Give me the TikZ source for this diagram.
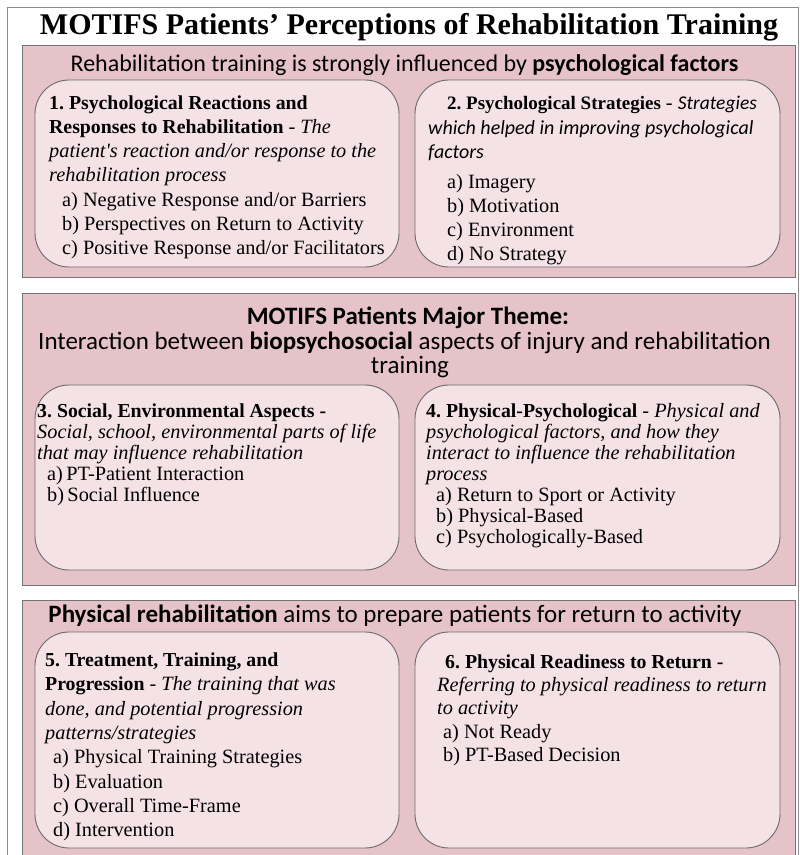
\documentclass[tikz,border=0pt]{standalone}
\usepackage{fontspec}
\setmainfont{Liberation Serif}
\newfontfamily\calfont{Carlito}
\definecolor{panelfill}{HTML}{E6C3C8}
\definecolor{boxfill}{HTML}{F4E2E6}
\definecolor{framegray}{HTML}{8A8A8A}
\newcommand\bldtxt[1]{{\fontsize{19.8}{24}\selectfont\bfseries #1}}
\newcommand\bldsmall[1]{{\fontsize{19}{24}\selectfont\bfseries #1}}
\newcommand\calit[1]{{\calfont\itshape\fontsize{19.5}{24}\selectfont #1}}
\begin{document}
\begin{tikzpicture}[x=1pt,y=-1pt,
  panel/.style={draw=black!55, fill=panelfill, line width=0.8pt},
  ibox/.style={draw=black!58, fill=boxfill, line width=0.9pt, rounded corners=34pt},
  ttl/.style={font=\fontsize{30}{34}\selectfont\bfseries, inner sep=0pt, anchor=base},
  head/.style={font=\calfont\fontsize{24}{28}\selectfont, inner sep=0pt, anchor=base},
  headl/.style={font=\calfont\fontsize{25}{28}\selectfont, inner sep=0pt, anchor=base},
  ln/.style={font=\frenchspacing\fontsize{20.3}{24}\selectfont, inner sep=0pt, anchor=base west},
  lnc/.style={font=\calfont\itshape\fontsize{20}{24}\selectfont, inner sep=0pt, anchor=base west}]
\useasboundingbox (0,0) rectangle (800,855);
\clip (0,0) rectangle (800,855);
\fill[white] (0,0) rectangle (800,855);
% outer frame
\draw[framegray, line width=1pt] (7,870) -- (7,7) -- (798,7) -- (798,870);
% title
\node[ttl] (title) at (409,34) {MOTIFS Patients’ Perceptions of Rehabilitation Training};

% ---------- panel 1
\path[panel] (22,45) rectangle (795,277);
\node[head] (h1) at (404.5,71) {Rehabilitation training is strongly influenced by \textbf{psychological factors}};
\path[ibox] (35,80) rectangle (399,267);
\path[ibox] (415,80) rectangle (780,267);
\node[ln] (b1a) at (49,109) {\bldtxt{1. Psychological Reactions and}};
\node[ln] (b1b) at (49,133) {\bldtxt{Responses to Rehabilitation} - \textit{The}};
\node[ln] (b1c) at (49,157) {\textit{patient\textquotesingle s reaction and/or response to the}};
\node[ln] (b1d) at (49,181) {\textit{rehabilitation process}};
\node[ln] (b1e) at (62,206) {a) Negative Response and/or Barriers};
\node[ln] (b1f) at (62,230) {b) Perspectives on Return to Activity};
\node[ln] (b1g) at (62,254) {c) Positive Response and/or Facilitators};

\node[ln] (b2a) at (447,109) {\bldsmall{2. Psychological Strategies} - \calit{Strategies}};
\node[lnc] (b2b) at (428,134) {which helped in improving psychological};
\node[lnc] (b2c) at (428,158) {factors};
\node[ln] (b2d) at (447,188) {a) Imagery};
\node[ln] (b2e) at (447,212) {b) Motivation};
\node[ln] (b2f) at (447,236) {c) Environment};
\node[ln] (b2g) at (447,260) {d) No Strategy};

% ---------- panel 2
\path[panel] (22,293) rectangle (795,585);
\node[headl] (h2a) at (408,324) {\textbf{MOTIFS Patients Major Theme:}};
\node[headl] (h2b) at (404.5,349) {Interaction between \textbf{biopsychosocial} aspects of injury and rehabilitation};
\node[headl] (h2c) at (410,373) {training};
\path[ibox] (35,385) rectangle (399,570);
\path[ibox] (415,385) rectangle (780,570);
\node[ln] (b3a) at (37,417) {\bldtxt{3. Social, Environmental Aspects -}};
\node[ln] (b3b) at (37,438) {\textit{Social, school, environmental parts of life}};
\node[ln] (b3c) at (37,459) {\textit{that may influence rehabilitation}};
\node[ln] (b3d) at (47,480) {a)\,PT-Patient Interaction};
\node[ln] (b3e) at (47,501) {b)\,Social Influence};

\node[ln] (b4a) at (426,417) {\bldtxt{4. Physical-Psychological} - \textit{Physical and}};
\node[ln] (b4b) at (426,438) {\textit{psychological factors, and how they}};
\node[ln] (b4c) at (426,459) {\textit{interact to influence the rehabilitation}};
\node[ln] (b4d) at (426,480) {\textit{process}};
\node[ln] (b4e) at (436,501) {a) Return to Sport or Activity};
\node[ln] (b4f) at (436,522) {b) Physical-Based};
\node[ln] (b4g) at (436,543) {c) Psychologically-Based};

% ---------- panel 3
\path[panel] (22,600) rectangle (795,870);
\node[headl] (h3) at (395,622) {\textbf{Physical rehabilitation} aims to prepare patients for return to activity};
\path[ibox] (35,632) rectangle (399,848);
\path[ibox] (415,632) rectangle (780,848);
\node[ln] (b5a) at (45,666) {\bldtxt{5. Treatment, Training, and}};
\node[ln] (b5b) at (45,690) {\bldtxt{Progression} - \textit{The training that was}};
\node[ln] (b5c) at (45,715) {\textit{done, and potential progression}};
\node[ln] (b5d) at (45,739) {\textit{patterns/strategies}};
\node[ln] (b5e) at (53,763) {a) Physical Training Strategies};
\node[ln] (b5f) at (53,788) {b) Evaluation};
\node[ln] (b5g) at (53,812) {c) Overall Time-Frame};
\node[ln] (b5h) at (53,836) {d) Intervention};

\node[ln] (b6a) at (445,668) {\bldtxt{6. Physical Readiness to Return -}};
\node[ln] (b6b) at (437,691) {\textit{Referring to physical readiness to return}};
\node[ln] (b6c) at (437,714) {\textit{to activity}};
\node[ln] (b6d) at (443,738) {a) Not Ready};
\node[ln] (b6e) at (443,761) {b) PT-Based Decision};
\end{tikzpicture}
\end{document}
